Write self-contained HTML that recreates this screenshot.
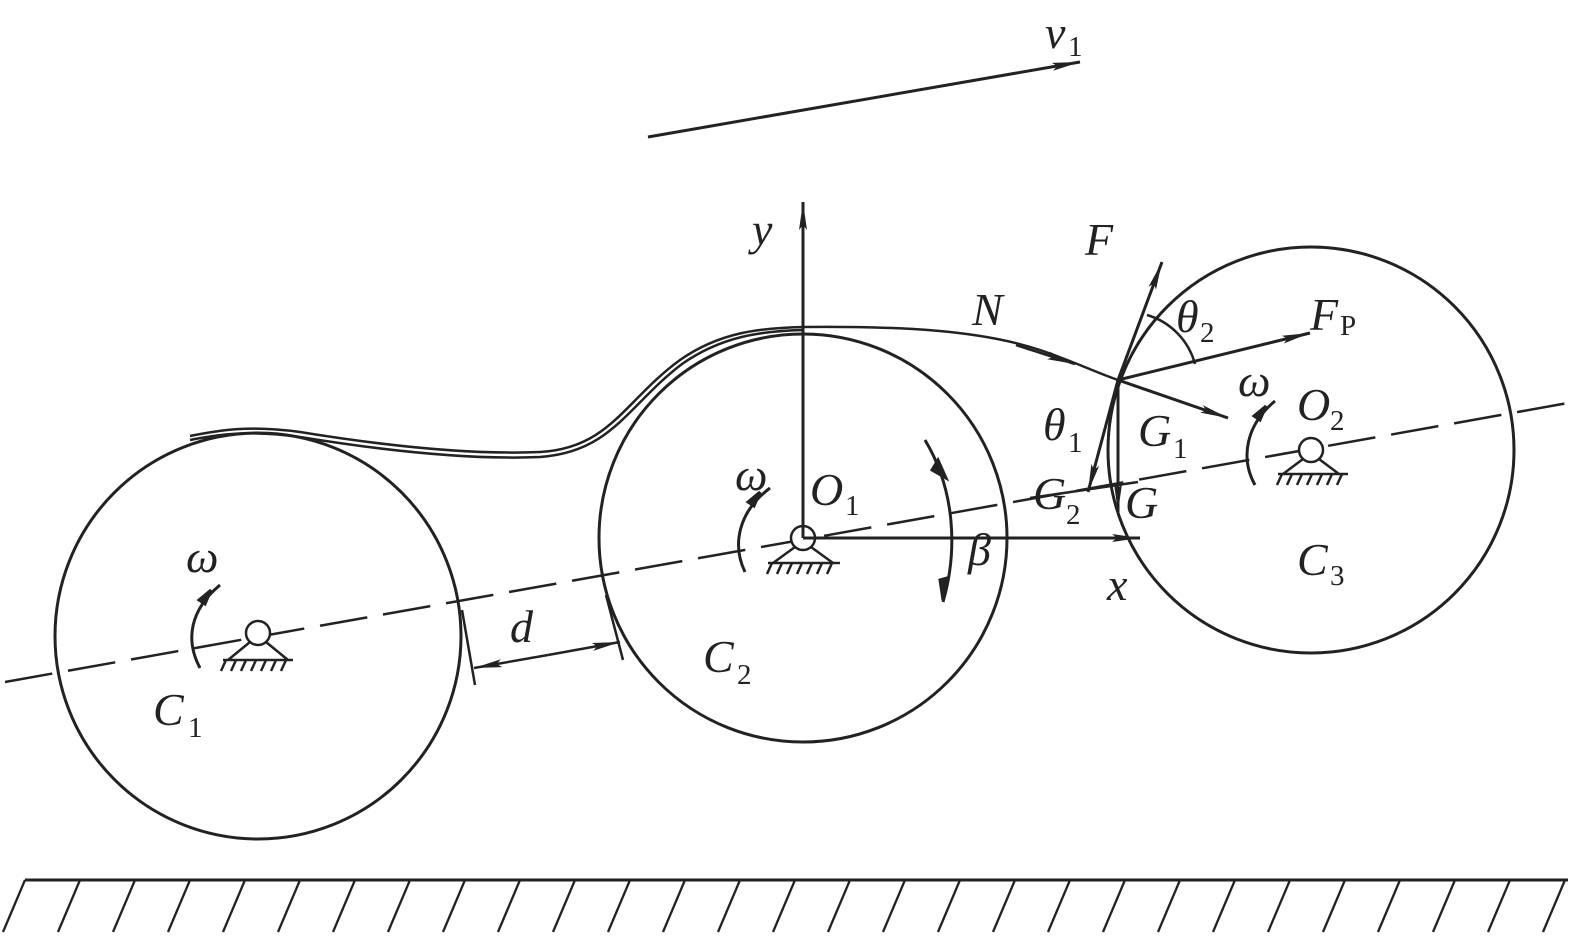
<!DOCTYPE html>
<html><head><style>body{margin:0;background:#fff}svg{display:block}text{font-family:"Liberation Serif",serif;font-style:italic;font-size:46px;fill:#222}.s{font-size:29px;font-style:normal}</style></head><body>
<svg width="1575" height="937" viewBox="0 0 1575 937" fill="none" stroke="#222" stroke-width="3" style="position:absolute;left:0;top:0">
<defs><marker id="a" viewBox="0 0 28 10" refX="28" refY="5" markerWidth="28" markerHeight="10" markerUnits="userSpaceOnUse" orient="auto"><path d="M0,1 L28,5 L0,9 L5,5 Z" fill="#222" stroke="none"/></marker></defs>
<circle cx="258" cy="636" r="203"/>
<circle cx="803" cy="538" r="204"/>
<circle cx="1311" cy="450" r="203"/>
<line x1="5" y1="682" x2="1568" y2="403" stroke-dasharray="48 16" stroke-width="2.5"/>
<line x1="25" y1="880" x2="1568" y2="880"/>
<g stroke-width="2.3">
<path d="M25 880 l-22 52 M80 880 l-22 52 M135 880 l-22 52 M190 880 l-22 52 M245 880 l-22 52 M300 880 l-22 52 M355 880 l-22 52 M410 880 l-22 52 M465 880 l-22 52 M520 880 l-22 52 M575 880 l-22 52 M630 880 l-22 52 M685 880 l-22 52 M740 880 l-22 52 M795 880 l-22 52 M850 880 l-22 52 M905 880 l-22 52 M960 880 l-22 52 M1015 880 l-22 52 M1070 880 l-22 52 M1125 880 l-22 52 M1180 880 l-22 52 M1235 880 l-22 52 M1290 880 l-22 52 M1345 880 l-22 52 M1400 880 l-22 52 M1455 880 l-22 52 M1510 880 l-22 52 M1565 880 l-22 52"/>
</g>
<path d="M190 436 C220 430 250 425 300 432 C380 445 470 455 540 452 C610 448 625 400 680 360 C720 332 760 328 803 327 C900 326 980 330 1040 350 C1070 360 1095 372 1118 380" stroke-width="2.5"/>
<path d="M190 440 C220 434 250 430 300 437 C380 450 470 460 540 457 C612 452 628 405 682 364 C722 336 762 331 803 330" stroke-width="2.5"/>
<g fill="#fff" stroke-width="2.5">
<circle cx="258" cy="633" r="12"/><path d="M250 642 L228 660 M266 642 L288 660 M223 660 H293" fill="none"/>
<path d="M226 660 l-5 11 M236 660 l-5 11 M246 660 l-5 11 M256 660 l-5 11 M266 660 l-5 11 M276 660 l-5 11 M286 660 l-5 11" fill="none"/>
<circle cx="803" cy="538" r="12"/><path d="M795 547 L773 563 M811 547 L833 563 M768 563 H840" fill="none"/>
<path d="M772 563 l-5 11 M782 563 l-5 11 M792 563 l-5 11 M802 563 l-5 11 M812 563 l-5 11 M822 563 l-5 11 M832 563 l-5 11" fill="none"/>
<circle cx="1311" cy="450" r="12"/><path d="M1303 459 L1283 474 M1319 459 L1339 474 M1278 474 H1348" fill="none"/>
<path d="M1282 474 l-5 11 M1292 474 l-5 11 M1302 474 l-5 11 M1312 474 l-5 11 M1322 474 l-5 11 M1332 474 l-5 11 M1342 474 l-5 11" fill="none"/>
</g>
<path d="M200 668 C185 640 190 610 220 585" stroke-width="3"/><path d="M199 600 L211 590 L205 604 Z" fill="#222"/>
<path d="M745 572 C732 545 738 512 770 488" stroke-width="3"/><path d="M748 502 L760 492 L754 506 Z" fill="#222"/>
<path d="M1255 485 C1240 458 1246 425 1275 401" stroke-width="3"/><path d="M1254 416 L1266 406 L1260 420 Z" fill="#222"/>
<path d="M925 440 C955 490 958 550 943 602" stroke-width="3"/><path d="M938 460 L946 478 L932 470 Z" fill="#222"/><path d="M947 578 L943 600 L940 580 Z" fill="#222"/>
<line x1="803" y1="538" x2="1140" y2="538" marker-end="url(#a)"/>
<line x1="803" y1="538" x2="803" y2="202" marker-end="url(#a)"/>
<line x1="648" y1="137" x2="1080" y2="62" marker-end="url(#a)"/>
<line x1="462" y1="610" x2="475" y2="685" stroke-width="2.5"/><line x1="606" y1="595" x2="623" y2="660" stroke-width="2.5"/>
<line x1="548" y1="655" x2="474" y2="668" marker-end="url(#a)" stroke-width="2.5"/><line x1="548" y1="655" x2="620" y2="642" marker-end="url(#a)" stroke-width="2.5"/>
<line x1="1118" y1="380" x2="1162" y2="262" marker-end="url(#a)"/>
<line x1="1118" y1="380" x2="1310" y2="333" marker-end="url(#a)"/>
<line x1="1118" y1="380" x2="1228" y2="418" marker-end="url(#a)"/>
<line x1="1118" y1="380" x2="1118" y2="512" marker-end="url(#a)"/>
<line x1="1118" y1="380" x2="1088" y2="492" marker-end="url(#a)"/>
<line x1="1016" y1="345" x2="1075" y2="364" marker-end="url(#a)" stroke-width="2.5"/>
<line x1="1030" y1="498" x2="1138" y2="482" stroke-width="2.5"/>
<path d="M1147 315 A70 70 0 0 1 1195 364" stroke-width="2.5"/>
<g stroke="none">
<text x="1045" y="48">v</text><text class="s" x="1068" y="56">1</text>
<text x="752" y="245">y</text>
<text x="1085" y="255">F</text>
<text x="972" y="325">N</text>
<text x="1176" y="332">θ</text><text class="s" x="1200" y="342">2</text>
<text x="1310" y="330">F</text><text class="s" x="1340" y="335">P</text>
<text x="1238" y="396">ω</text>
<text x="1297" y="420">O</text><text class="s" x="1330" y="430">2</text>
<text x="1043" y="440">θ</text><text class="s" x="1068" y="452">1</text>
<text x="1138" y="446">G</text><text class="s" x="1173" y="458">1</text>
<text x="1033" y="509">G</text><text class="s" x="1066" y="524">2</text>
<text x="1125" y="518">G</text>
<text x="735" y="490">ω</text>
<text x="810" y="505">O</text><text class="s" x="845" y="515">1</text>
<text x="968" y="565">β</text>
<text x="1107" y="600">x</text>
<text x="1297" y="575">C</text><text class="s" x="1330" y="585">3</text>
<text x="186" y="572">ω</text>
<text x="510" y="642">d</text>
<text x="703" y="672">C</text><text class="s" x="737" y="684">2</text>
<text x="153" y="725">C</text><text class="s" x="188" y="737">1</text>
</g>
</svg>
</body></html>
